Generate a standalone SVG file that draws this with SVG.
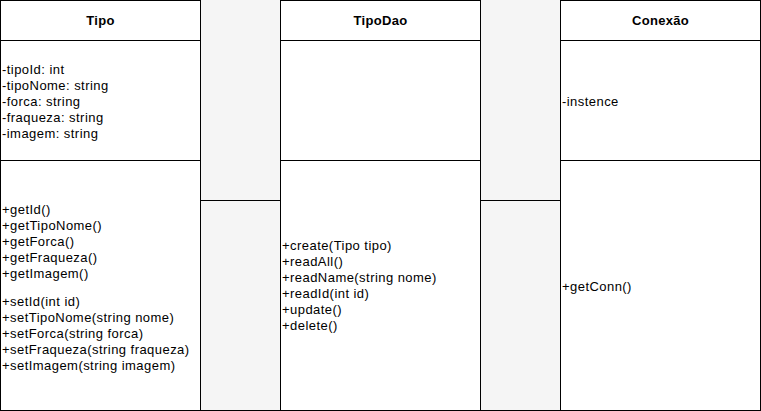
<svg xmlns="http://www.w3.org/2000/svg" width="761" height="411" viewBox="0 0 761 411">
<style>
.box{fill:#fff;stroke:#000;stroke-width:1}
.ln{stroke:#000;stroke-width:1;fill:none}
.gap{fill:#f5f5f5;stroke:none}
.t{font-family:"Liberation Sans",Arial,Helvetica,sans-serif;font-size:13px;letter-spacing:0.45px;fill:#000}
.h{font-family:"Liberation Sans",Arial,Helvetica,sans-serif;font-size:13px;letter-spacing:0.3px;font-weight:bold;fill:#000;text-anchor:middle}
</style>
<rect width="761" height="411" fill="#fff"/>
<g id="gaps">
<rect class="gap" x="200.5" y="0" width="80" height="410.5"/>
<rect class="gap" x="480.5" y="0" width="80" height="410.5"/>
<line class="ln" x1="200.5" y1="200.5" x2="280.5" y2="200.5"/>
<line class="ln" x1="480.5" y1="200.5" x2="560.5" y2="200.5"/>
<line class="ln" x1="200.5" y1="410.5" x2="280.5" y2="410.5"/>
<line class="ln" x1="480.5" y1="410.5" x2="560.5" y2="410.5"/>
</g>
<g id="tipo">
<rect class="box" x="0.5" y="0.5" width="200" height="410"/>
<line class="ln" x1="0.5" y1="40.5" x2="200.5" y2="40.5"/>
<line class="ln" x1="0.5" y1="160.5" x2="200.5" y2="160.5"/>
<text class="h" x="100.5" y="25">Tipo</text>
<text class="t" x="2" y="73.5">-tipoId: int</text>
<text class="t" x="2" y="89.5">-tipoNome: string</text>
<text class="t" x="2" y="105.5">-forca: string</text>
<text class="t" x="2" y="121.5">-fraqueza: string</text>
<text class="t" x="2" y="137.5">-imagem: string</text>
<text class="t" x="2" y="213.5">+getId()</text>
<text class="t" x="2" y="229.5">+getTipoNome()</text>
<text class="t" x="2" y="245.5">+getForca()</text>
<text class="t" x="2" y="261.5">+getFraqueza()</text>
<text class="t" x="2" y="277.5">+getImagem()</text>
<text class="t" x="2" y="305.5">+setId(int id)</text>
<text class="t" x="2" y="321.5">+setTipoNome(string nome)</text>
<text class="t" x="2" y="337.5">+setForca(string forca)</text>
<text class="t" x="2" y="353.5">+setFraqueza(string fraqueza)</text>
<text class="t" x="2" y="369.5">+setImagem(string imagem)</text>
</g>
<g id="tipodao">
<rect class="box" x="280.5" y="0.5" width="200" height="410"/>
<line class="ln" x1="280.5" y1="40.5" x2="480.5" y2="40.5"/>
<line class="ln" x1="280.5" y1="160.5" x2="480.5" y2="160.5"/>
<text class="h" x="380.5" y="25">TipoDao</text>
<text class="t" x="282" y="249.5">+create(Tipo tipo)</text>
<text class="t" x="282" y="265.5">+readAll()</text>
<text class="t" x="282" y="281.5">+readName(string nome)</text>
<text class="t" x="282" y="297.5">+readId(int id)</text>
<text class="t" x="282" y="313.5">+update()</text>
<text class="t" x="282" y="329.5">+delete()</text>
</g>
<g id="conexao">
<rect class="box" x="560.5" y="0.5" width="200" height="410"/>
<line class="ln" x1="560.5" y1="40.5" x2="760.5" y2="40.5"/>
<line class="ln" x1="560.5" y1="160.5" x2="760.5" y2="160.5"/>
<text class="h" x="660.5" y="25">Conexão</text>
<text class="t" x="562" y="105.5">-instence</text>
<text class="t" x="562" y="290.5">+getConn()</text>
</g>
<g id="connectors"></g>
</svg>
